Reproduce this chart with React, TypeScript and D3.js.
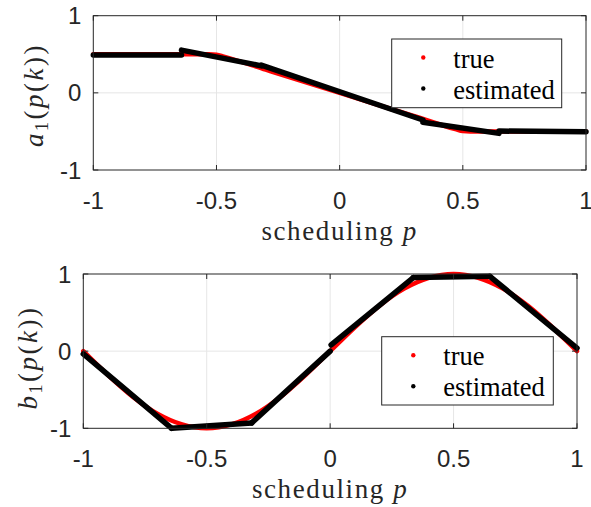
import React, { useRef, useEffect } from 'react';
import * as d3 from 'd3';

// tick values / labels shared by both panels
const xTicks = [-1, -0.5, 0, 0.5, 1];
const xTickLabels = ['-1', '-0.5', '0', '0.5', '1'];
const yTicks = [-1, 0, 1];
const yTickLabels = ['-1', '0', '1'];
const legendLabels = ['true', 'estimated'];

// top panel: true a1(p)
const aTrueP = [-1, -0.8, -0.6, -0.53, -0.5, -0.47, -0.3, 0, 0.3, 0.47, 0.5, 0.53, 0.6, 0.8, 1];
const aTrueV = [0.5, 0.5, 0.5, 0.5, 0.495, 0.47, 0.3, 0, -0.3, -0.47, -0.495, -0.5, -0.5, -0.5, -0.5];

// top panel: estimated a1(p), one linear piece per region
const aEstP0 = [-1, -0.642, -0.318, 0.338, 0.647];
const aEstP1 = [-0.642, -0.318, 0.338, 0.647, 1];
const aEstV0 = [0.49, 0.554, 0.36, -0.38, -0.495];
const aEstV1 = [0.49, 0.35, -0.352, -0.525, -0.505];

// bottom panel: true b1(p)
const bTrueP = [-1, -0.9, -0.8, -0.7, -0.6, -0.5, -0.4, -0.3, -0.2, -0.1, 0, 0.1, 0.2, 0.3, 0.4, 0.5, 0.6, 0.7, 0.8, 0.9, 1];
const bTrueV = [0, -0.31, -0.59, -0.81, -0.95, -1, -0.95, -0.81, -0.59, -0.31, 0, 0.31, 0.59, 0.81, 0.95, 1, 0.95, 0.81, 0.59, 0.31, 0];

// bottom panel: estimated b1(p)
const bEstP0 = [-1, -0.642, -0.318, 0.004, 0.337, 0.647];
const bEstP1 = [-0.642, -0.318, 0.0, 0.337, 0.647, 1];
const bEstV0 = [-0.036, -1.0, -0.93, 0.08, 0.955, 0.97];
const bEstV1 = [-1.0, -0.93, 0.0, 0.953, 0.97, 0.04];

const AX = '#262626';
const GRID = '#e6e6e6';
const SERIF = "'Liberation Serif', 'Times New Roman', serif";
const SANS = "'Liberation Sans', Arial, sans-serif";

const drawPanel = (svg, cfg) => {
    const { left, right, top, bottom, trueP, trueV, p0, p1, v0, v1, yName, yLabelX, yLabelY, legend } = cfg;

    const x = d3.scaleLinear().domain([-1, 1]).range([left, right]);
    const y = d3.scaleLinear().domain([-1, 1]).range([bottom, top]);
    const g = svg.append('g');

    // grid
    xTicks.filter(t => t > -1 && t < 1).forEach(t => {
        g.append('line').attr('x1', x(t)).attr('x2', x(t)).attr('y1', top).attr('y2', bottom)
            .attr('stroke', GRID).attr('stroke-width', 1);
    });
    yTicks.filter(t => t > -1 && t < 1).forEach(t => {
        g.append('line').attr('x1', left).attr('x2', right).attr('y1', y(t)).attr('y2', y(t))
            .attr('stroke', GRID).attr('stroke-width', 1);
    });

    // true curve
    const line = d3.line().x(d => x(d[0])).y(d => y(d[1])).curve(d3.curveMonotoneX);
    g.append('path')
        .datum(trueP.map((p, i) => [p, trueV[i]]))
        .attr('d', line)
        .attr('fill', 'none')
        .attr('stroke', '#ff0000')
        .attr('stroke-width', 4.5)
        .attr('stroke-linejoin', 'round')
        .attr('stroke-linecap', 'round');

    // estimated pieces
    p0.forEach((p, i) => {
        g.append('line')
            .attr('x1', x(p)).attr('y1', y(v0[i]))
            .attr('x2', x(p1[i])).attr('y2', y(v1[i]))
            .attr('stroke', '#000')
            .attr('stroke-width', 5.5)
            .attr('stroke-linecap', 'round');
    });

    // box
    g.append('rect').attr('x', left).attr('y', top).attr('width', right - left).attr('height', bottom - top)
        .attr('fill', 'none').attr('stroke', AX).attr('stroke-width', 1);

    // tick marks (inward, all sides)
    const tl = 5;
    xTicks.forEach(t => {
        g.append('line').attr('x1', x(t)).attr('x2', x(t)).attr('y1', bottom).attr('y2', bottom - tl).attr('stroke', AX);
        g.append('line').attr('x1', x(t)).attr('x2', x(t)).attr('y1', top).attr('y2', top + tl).attr('stroke', AX);
    });
    yTicks.forEach(t => {
        g.append('line').attr('x1', left).attr('x2', left + tl).attr('y1', y(t)).attr('y2', y(t)).attr('stroke', AX);
        g.append('line').attr('x1', right).attr('x2', right - tl).attr('y1', y(t)).attr('y2', y(t)).attr('stroke', AX);
    });

    // tick labels
    xTicks.forEach((t, i) => {
        g.append('text')
            .attr('x', x(t)).attr('y', bottom + 38.5)
            .attr('text-anchor', 'middle')
            .attr('font-family', SANS)
            .attr('font-size', 24)
            .attr('fill', AX)
            .text(xTickLabels[i]);
    });
    yTicks.forEach((t, i) => {
        g.append('text')
            .attr('x', left - 12).attr('y', y(t) + 8.5)
            .attr('text-anchor', 'end')
            .attr('font-family', SANS)
            .attr('font-size', 24)
            .attr('fill', AX)
            .text(yTickLabels[i]);
    });

    // x label
    const xl = g.append('text')
        .attr('x', (left + right) / 2).attr('y', bottom + 70)
        .attr('text-anchor', 'middle')
        .attr('font-family', SERIF)
        .attr('font-size', 27)
        .attr('letter-spacing', 1.6)
        .attr('fill', AX);
    xl.append('tspan').text('scheduling ');
    xl.append('tspan').attr('font-style', 'italic').text('p');

    // y label
    const yl = g.append('text')
        .attr('transform', `translate(${yLabelX},${yLabelY}) rotate(-90)`)
        .attr('text-anchor', 'middle')
        .attr('font-family', SERIF)
        .attr('font-size', 27)
        .attr('letter-spacing', 2.5)
        .attr('fill', AX);
    yl.append('tspan').attr('font-style', 'italic').text(yName);
    yl.append('tspan').attr('font-size', 18).attr('dy', 5).text('1');
    yl.append('tspan').attr('dy', -5).text('(');
    yl.append('tspan').attr('font-style', 'italic').text('p');
    yl.append('tspan').text('(');
    yl.append('tspan').attr('font-style', 'italic').text('k');
    yl.append('tspan').text('))');

    // legend
    const lg = g.append('g').attr('transform', `translate(${legend.x},${legend.y})`);
    lg.append('rect').attr('width', legend.w).attr('height', legend.h)
        .attr('fill', '#fff').attr('stroke', AX).attr('stroke-width', 1);
    const colors = ['#ff0000', '#000'];
    legendLabels.forEach((lab, i) => {
        const cy = 18.5 + i * 31;
        lg.append('circle').attr('cx', 31.6).attr('cy', cy).attr('r', 2.2).attr('fill', colors[i]);
        lg.append('text')
            .attr('x', 61.6).attr('y', cy + 10.3)
            .attr('font-family', SERIF)
            .attr('font-size', 26.5)
            .attr('fill', '#000')
            .text(lab);
    });
};

const App = () => {
    const chartRef = useRef(null);

    useEffect(() => {
        const svg = d3.select(chartRef.current);
        svg.selectAll('*').remove();
        svg.append('rect').attr('width', 591).attr('height', 507).attr('fill', '#fff');

        drawPanel(svg, {
            left: 93.3, right: 586, top: 15.7, bottom: 170,
            trueP: aTrueP, trueV: aTrueV,
            p0: aEstP0, p1: aEstP1, v0: aEstV0, v1: aEstV1,
            yName: 'a', yLabelX: 43, yLabelY: 95,
            legend: { x: 391.7, y: 39, w: 170, h: 68.7 },
        });

        drawPanel(svg, {
            left: 83.3, right: 577, top: 274, bottom: 428.3,
            trueP: bTrueP, trueV: bTrueV,
            p0: bEstP0, p1: bEstP1, v0: bEstV0, v1: bEstV1,
            yName: 'b', yLabelX: 36.5, yLabelY: 357.5,
            legend: { x: 381.7, y: 336.7, w: 171.6, h: 68.3 },
        });
    }, []);

    return (
        <svg
            ref={chartRef}
            width={591}
            height={507}
            style={{ position: 'absolute', left: 0, top: 0 }}
        />
    );
};

export default App;
